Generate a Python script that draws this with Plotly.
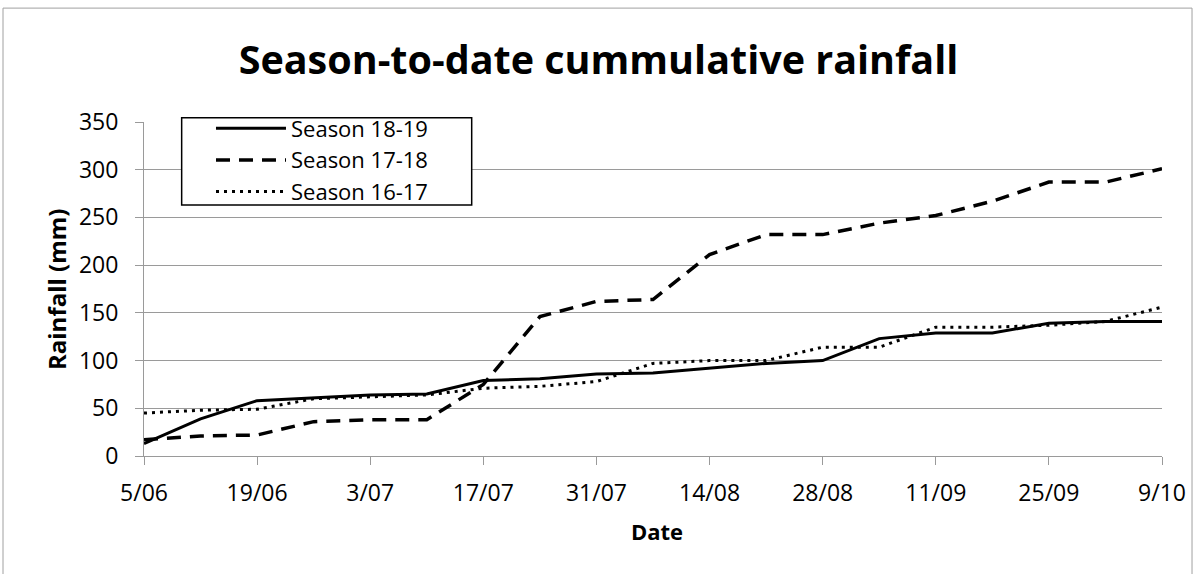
import plotly.graph_objects as go

# weekly dates, 5 June to 9 October
dates = ["2018-06-05", "2018-06-12", "2018-06-19", "2018-06-26", "2018-07-03",
         "2018-07-10", "2018-07-17", "2018-07-24", "2018-07-31", "2018-08-07",
         "2018-08-14", "2018-08-21", "2018-08-28", "2018-09-04", "2018-09-11",
         "2018-09-18", "2018-09-25", "2018-10-02", "2018-10-09"]

season_18_19 = [13, 39, 58, 61, 64, 65, 79, 81, 86, 87, 92, 97, 100,
                123, 129, 129, 139, 141, 141]
season_17_18 = [17, 21, 22, 36, 38, 38, 75, 146, 162, 164, 211, 232, 232,
                244, 252, 267, 287, 287, 301]
season_16_17 = [45, 48, 49, 60, 62, 64, 71, 73, 78, 97, 100, 100, 114,
                114, 135, 135, 137, 141, 156]

tick_vals = dates[::2]
tick_text = ["5/06", "19/06", "3/07", "17/07", "31/07", "14/08", "28/08",
             "11/09", "25/09", "9/10"]

FONT = "Open Sans"
GRID = "#9a9a9a"

fig = go.Figure()
fig.add_trace(go.Scatter(x=dates, y=season_18_19, name="Season 18-19",
                         mode="lines", line=dict(color="black", width=3)))
fig.add_trace(go.Scatter(x=dates, y=season_17_18, name="Season 17-18",
                         mode="lines",
                         line=dict(color="black", width=3.5, dash="14px,9px")))
fig.add_trace(go.Scatter(x=dates, y=season_16_17, name="Season 16-17",
                         mode="lines",
                         line=dict(color="black", width=3, dash="3px,5px")))

fig.update_layout(
    width=1197, height=574,
    margin=dict(l=144, r=35, t=122, b=118),
    paper_bgcolor="white", plot_bgcolor="white",
    font=dict(family=FONT, color="black", size=22),
    title=dict(text="<b>Season-to-date cummulative rainfall</b>",
               x=0.5, xanchor="center", y=1 - 60 / 574, yanchor="middle",
               font=dict(size=39.5, family=FONT, color="black")),
    showlegend=True,
    legend=dict(x=0.0658, y=1.0434, xanchor="left", yanchor="top",
                borderwidth=0, bgcolor="rgba(0,0,0,0)",
                font=dict(size=22, family=FONT), tracegroupgap=0,
                itemwidth=70),
    xaxis=dict(range=[dates[0], dates[-1]], tickvals=tick_vals,
               ticktext=tick_text, showgrid=False, showline=True,
               linecolor=GRID, linewidth=1, ticks="outside", ticklen=8,
               tickcolor=GRID, tickfont=dict(size=23), ticklabelstandoff=8,
               zeroline=False),
    yaxis=dict(range=[0, 350], dtick=50, showgrid=True, gridcolor=GRID,
               gridwidth=1, showline=True, linecolor=GRID, linewidth=1,
               ticks="outside", ticklen=8, tickcolor=GRID,
               tickfont=dict(size=23), ticklabelstandoff=12, zeroline=False),
    annotations=[
        dict(text="<b>Rainfall (mm)</b>", xref="paper", yref="paper",
             x=-0.0864, y=0.5, xanchor="center", yanchor="middle",
             textangle=-90, showarrow=False, font=dict(size=24)),
        dict(text="<b>Date</b>", xref="paper", yref="paper",
             x=0.504, y=-0.225, xanchor="center", yanchor="middle",
             showarrow=False, font=dict(size=22)),
    ],
    shapes=[
        # outer chart border
        dict(type="rect", xref="paper", yref="paper",
             x0=-0.1385, x1=1.0295, y0=-0.4, y1=1.341,
             line=dict(color="#a0a0a0", width=1), layer="below"),
        # legend frame
        dict(type="rect", xref="paper", yref="paper",
             x0=0.037, x1=0.3219, y0=0.7515, y1=1.0129,
             line=dict(color="black", width=1.5), fillcolor="white",
             layer="above"),
    ],
)

fig.write_html("out.html", config={"displayModeBar": False},
               post_script="document.body.style.margin='0';")
